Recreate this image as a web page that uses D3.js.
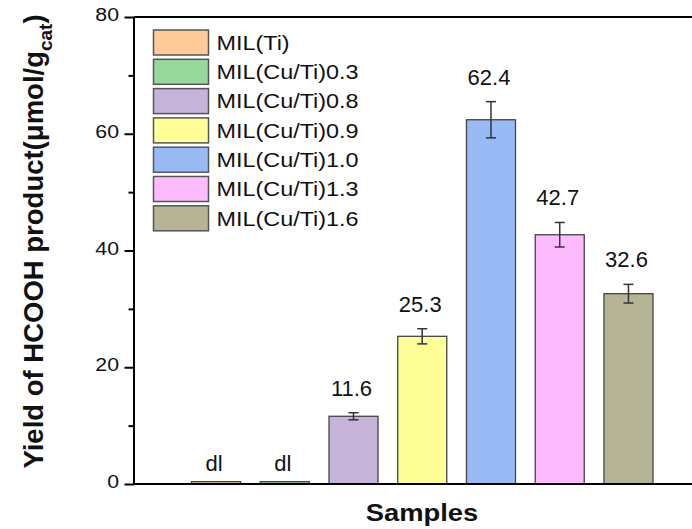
<!DOCTYPE html>
<html>
<head>
<meta charset="utf-8">
<script src="https://cdn.jsdelivr.net/npm/d3@7"></script>
<style>
  html, body { margin: 0; padding: 0; background: #fff; }
  svg { display: block; font-family: "Liberation Sans", Arial, sans-serif; }
</style>
</head>
<body>
<div id="chart"></div>
<script>
// 数据
const samples = ["MIL(Ti)", "MIL(Cu/Ti)0.3", "MIL(Cu/Ti)0.8", "MIL(Cu/Ti)0.9", "MIL(Cu/Ti)1.0", "MIL(Cu/Ti)1.3", "MIL(Cu/Ti)1.6"];
const yields = [0.4, 0.4, 11.6, 25.3, 62.4, 42.7, 32.6];
const errors = [0, 0, 0.6, 1.3, 3.1, 2.1, 1.6];
const valueLabels = ["dl", "dl", "11.6", "25.3", "62.4", "42.7", "32.6"];
const colors = ["#FFCC99", "#99D89B", "#C6B3D9", "#FFFF99", "#99BBF5", "#FFBBFF", "#B5B595"];
const yTicks = [0, 20, 40, 60, 80];
const yMinorTicks = [10, 30, 50, 70];

const width = 692, height = 529;
const plotLeft = 134, plotTop = 17, plotBottom = 484;

const svg = d3.select("#chart")
  .append("svg")
  .attr("width", width)
  .attr("height", height);

// 比例尺
const y = d3.scaleLinear().domain([0, 80]).range([plotBottom, plotTop]);
const x = d3.scaleBand()
  .domain(samples)
  .range([143.4, 701.1])
  .paddingInner(0.287)
  .paddingOuter(0.7);

// 柱子
svg.selectAll(".bar")
  .data(samples)
  .enter()
  .append("rect")
  .attr("class", "bar")
  .attr("x", d => x(d))
  .attr("y", (d, i) => y(yields[i]))
  .attr("width", x.bandwidth())
  .attr("height", (d, i) => y(0) - y(yields[i]))
  .attr("fill", (d, i) => colors[i])
  .attr("stroke", "#444")
  .attr("stroke-width", 1.3);

// 误差棒
const errGroup = svg.selectAll(".err")
  .data(samples.filter((d, i) => errors[i] > 0))
  .enter()
  .append("g")
  .attr("class", "err")
  .attr("stroke", "#333")
  .attr("stroke-width", 1.5);

errGroup.each(function (d) {
  const i = samples.indexOf(d);
  const cx = x(d) + x.bandwidth() / 2;
  const g = d3.select(this);
  const hi = y(yields[i] + errors[i]), lo = y(yields[i] - errors[i]);
  g.append("line").attr("x1", cx).attr("x2", cx).attr("y1", hi).attr("y2", lo);
  g.append("line").attr("x1", cx - 5).attr("x2", cx + 5).attr("y1", hi).attr("y2", hi);
  g.append("line").attr("x1", cx - 5).attr("x2", cx + 5).attr("y1", lo).attr("y2", lo);
});

// 数值标签
svg.selectAll(".val")
  .data(samples)
  .enter()
  .append("text")
  .attr("class", "val")
  .attr("x", d => x(d) + x.bandwidth() / 2 - 2)
  .attr("y", (d, i) => y(yields[i] + errors[i]) - (errors[i] > 0 ? 17 : 11))
  .attr("text-anchor", "middle")
  .attr("font-size", "22px")
  .attr("fill", "#111")
  .text((d, i) => valueLabels[i]);

// 坐标轴
const yAxis = svg.append("g")
  .attr("transform", `translate(${plotLeft},0)`)
  .call(d3.axisLeft(y).tickValues(yTicks).tickSize(9.5).tickSizeOuter(0));
yAxis.select(".domain").remove();
yAxis.selectAll("line").attr("stroke", "#000").attr("stroke-width", 2);
yAxis.selectAll("text")
  .attr("x", null)
  .attr("dy", null)
  .attr("font-size", "19px")
  .attr("font-family", "Liberation Sans, Arial, sans-serif")
  .attr("fill", "#111")
  .attr("transform", "translate(-15,3.5) scale(1.12,1)");

const yMinor = svg.append("g")
  .attr("transform", `translate(${plotLeft},0)`)
  .call(d3.axisLeft(y).tickValues(yMinorTicks).tickSize(5.5).tickFormat(""));
yMinor.select(".domain").remove();
yMinor.selectAll("line").attr("stroke", "#000").attr("stroke-width", 2);

// 边框
const frame = svg.append("g").attr("stroke", "#000").attr("stroke-width", 2);
frame.append("line").attr("x1", plotLeft).attr("x2", plotLeft).attr("y1", plotTop).attr("y2", plotBottom);
frame.append("line").attr("x1", plotLeft).attr("x2", width).attr("y1", plotTop).attr("y2", plotTop);
frame.append("line").attr("x1", plotLeft).attr("x2", width).attr("y1", plotBottom).attr("y2", plotBottom);

// 图例
const legend = svg.append("g").attr("class", "legend");
samples.forEach((d, i) => {
  const cy = 42.5 + i * 29.3;
  legend.append("rect")
    .attr("x", 153.5)
    .attr("y", cy - 12.5)
    .attr("width", 55)
    .attr("height", 25)
    .attr("fill", colors[i])
    .attr("stroke", "#555")
    .attr("stroke-width", 1.5);
  legend.append("text")
    .attr("transform", `translate(216.5,${cy + 7.3}) scale(1.17,1)`)
    .attr("font-size", "20px")
    .attr("fill", "#111")
    .text(d);
});

// 轴标题
svg.append("text")
  .attr("transform", "translate(422,521) scale(1.19,1)")
  .attr("text-anchor", "middle")
  .attr("font-size", "23px")
  .attr("font-weight", "bold")
  .attr("fill", "#111")
  .text("Samples");

const yTitle = svg.append("text")
  .attr("transform", "translate(43,241.5) rotate(-90)")
  .attr("text-anchor", "middle")
  .attr("font-size", "27.5px")
  .attr("font-weight", "bold")
  .attr("fill", "#111");
yTitle.append("tspan").text("Yield of HCOOH product(μmol/g");
yTitle.append("tspan").attr("font-size", "19px").attr("dy", 9).text("cat");
yTitle.append("tspan").attr("dy", -9).text(")");
</script>
</body>
</html>
